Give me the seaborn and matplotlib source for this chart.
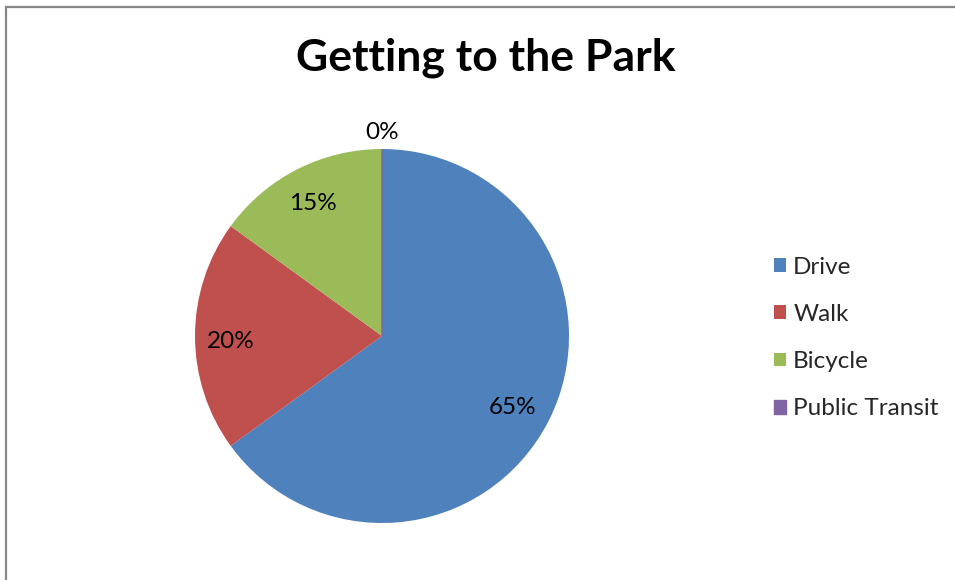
import matplotlib
matplotlib.use("Agg")
import matplotlib.pyplot as plt
import matplotlib.patches as mpatches
import seaborn as sns

categories = ["Drive", "Walk", "Bicycle", "Public Transit"]
shares = [65, 20, 15, 0]
colors = ["#4F81BD", "#C0504D", "#9BBB59", "#8064A2"]

# label anchor points in pie coordinates (radius 1)
label_xy = [(0.70, -0.385), (-0.81, -0.027), (-0.37, 0.706), (0.0, 1.09)]

sns.set_theme(style="white")
plt.rcParams["font.family"] = ["Lato", "DejaVu Sans"]

fig = plt.figure(figsize=(9.55, 5.8), dpi=100)
fig.patch.set_facecolor("white")

# chart frame
frame = mpatches.Rectangle((6 / 955, -0.1), 1.2, 1.1 - 7 / 580,
                           transform=fig.transFigure, fill=False,
                           edgecolor="#878787", linewidth=1.6, clip_on=False)
fig.add_artist(frame)

fig.text(486 / 955, 1 - 58 / 580, "Getting to the Park", ha="center", va="center",
         fontsize=32, fontweight="bold", color="black")

ax = fig.add_axes([195 / 955, 57 / 580, 374 / 955, 374 / 580])
palette = sns.color_palette(colors)
wedges, _ = ax.pie(shares, colors=palette, startangle=90, counterclock=False,
                   radius=1.0, wedgeprops=dict(linewidth=0))
wedges[3].set_edgecolor(colors[3])
wedges[3].set_linewidth(1.0)

for (x, y), v in zip(label_xy, shares):
    ax.text(x, y, f"{v}%", ha="center", va="center", fontsize=17.5, color="black")

ax.set_xlim(-1, 1)
ax.set_ylim(-1, 1)
ax.set_aspect("equal")
ax.axis("off")

fig.legend(wedges, categories, loc="center left",
           bbox_to_anchor=(764 / 955, 1 - 338 / 580), frameon=False,
           fontsize=17.5, handlelength=0.5, handleheight=0.5,
           handletextpad=0.3, labelspacing=1.08, borderaxespad=0)

fig.savefig("out.png", dpi=100, facecolor="white")
